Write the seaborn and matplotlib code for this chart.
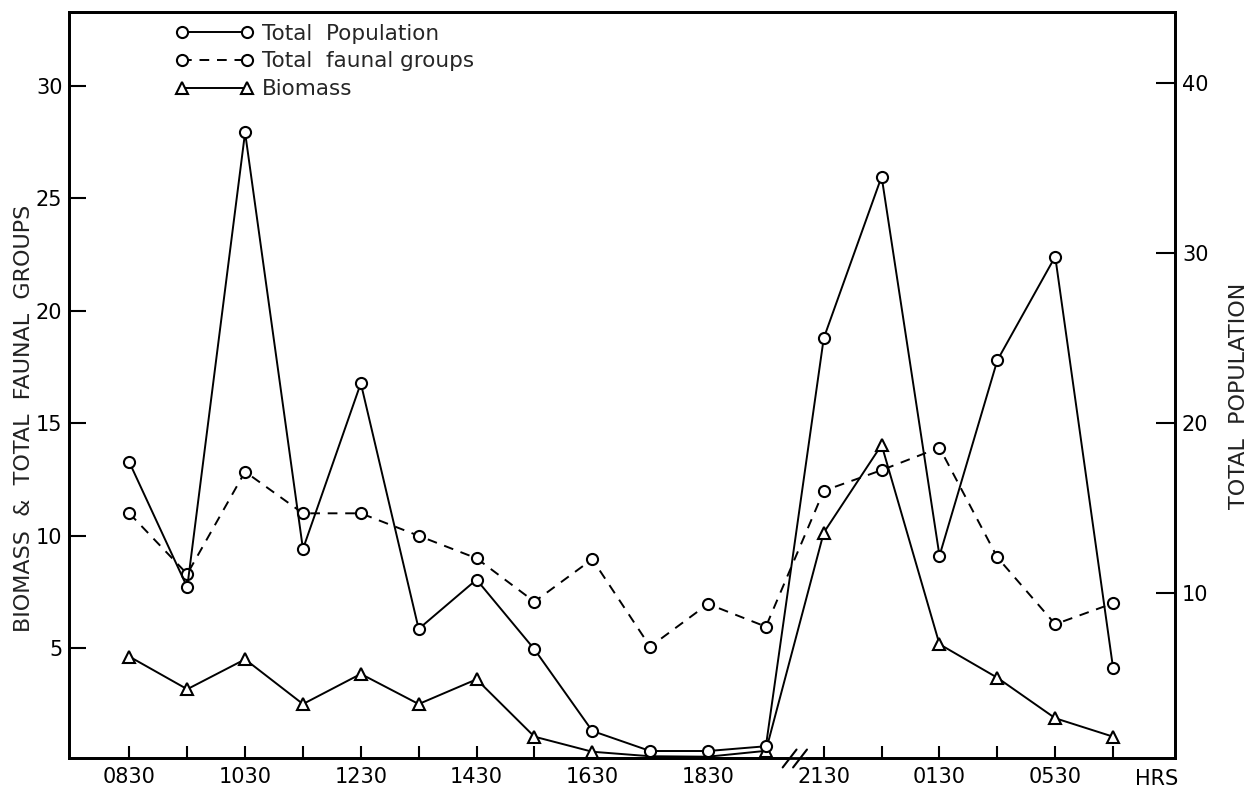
import numpy as np
import pandas as pd
import matplotlib
matplotlib.use("Agg")
import matplotlib.pyplot as plt
import matplotlib.transforms as mtransforms
import seaborn as sns

# ---- data ----
times = ["0830", "0930", "1030", "1130", "1230", "1330", "1430", "1530", "1630",
         "1730", "1830", "1930", "2130", "2330", "0130", "0330", "0530", "0730"]
shown_labels = ["0830", "", "1030", "", "1230", "", "1430", "", "1630",
                "", "1830", "", "2130", "", "0130", "", "0530", ""]
total_population = [17.7, 10.35, 37.1, 12.6, 22.35, 7.9, 10.8, 6.7, 1.9,
                    0.72, 0.72, 1.0, 25.0, 34.5, 12.2, 23.7, 29.8, 5.6]
faunal_groups = [11.0, 8.3, 12.85, 11.0, 11.0, 10.0, 9.0, 7.07, 8.96,
                 5.07, 6.97, 5.96, 12.0, 12.92, 13.92, 9.04, 6.07, 7.0]
biomass = [4.63, 3.18, 4.51, 2.52, 3.86, 2.52, 3.62, 1.07, 0.4,
           0.2, 0.18, 0.44, 10.14, 14.04, 5.18, 3.69, 1.89, 1.07]
left_ticks = [5, 10, 15, 20, 25, 30]
right_ticks = [10, 20, 30, 40]

sns.set_style("white")
plt.rcParams["font.family"] = ["DejaVu Sans"]

df = pd.DataFrame({"pos": np.arange(len(times)), "time": times,
                   "pop": total_population, "fauna": faunal_groups, "bio": biomass})

fig = plt.figure(figsize=(12.54, 7.91), dpi=100)
ax = fig.add_axes([0.0553, 0.0411, 0.937 - 0.0553, 0.9852 - 0.0411])
ax2 = ax.twinx()

lw = 1.4
common = dict(color="black", linewidth=lw, markersize=8, markerfacecolor="white",
              markeredgecolor="black", markeredgewidth=1.5)

sns.lineplot(data=df, x="pos", y="fauna", ax=ax, marker="o", dashes=(5, 4),
             legend=False, **common)
sns.lineplot(data=df, x="pos", y="bio", ax=ax, marker="^",
             legend=False, **common)
sns.lineplot(data=df, x="pos", y="pop", ax=ax2, marker="o",
             legend=False, **common)

# axes limits
ax.set_xlim(-1.037, 18.07)
ax.set_ylim(0.1, 33.3)
ax2.set_ylim(0.28, 44.2)

ax.set_xticks(df["pos"])
ax.set_xticklabels(shown_labels)
ax.set_yticks(left_ticks)
ax2.set_yticks(right_ticks)

fs = 15
ax.tick_params(axis="x", direction="in", length=9, width=1.5, labelsize=fs,
               colors="black", pad=6, bottom=True, top=False)
ax.tick_params(axis="y", direction="in", length=12, width=1.5, labelsize=fs,
               colors="black", pad=5, left=True, right=False)
ax2.tick_params(axis="y", direction="in", length=14, width=1.5, labelsize=fs,
                colors="black", pad=5, right=True)

for a in (ax, ax2):
    for s in a.spines.values():
        s.set_visible(True)
        s.set_color("black")
        s.set_linewidth(2)

ax.set_xlabel("")
ax.set_ylabel("BIOMASS  &  TOTAL  FAUNAL  GROUPS", fontsize=16, color="#222222")
ax.yaxis.set_label_coords(-0.032, 0.456)
ax2.set_ylabel("TOTAL  POPULATION", fontsize=16, color="#222222", rotation=90)
ax2.yaxis.set_label_coords(1.049, 0.485)

# HRS label
trans = mtransforms.blended_transform_factory(ax.transData, ax.transAxes)
ax.text(17.76, -0.027, "HRS", transform=trans, ha="center", va="center",
        fontsize=fs, color="black")

# axis break marks
ax.plot([11.40, 11.70], [0.0, 0.0], transform=trans, color="white", linewidth=4,
        clip_on=False, zorder=10, solid_capstyle="butt")
for x0 in (11.29, 11.47):
    ax.plot([x0, x0 + 0.24], [-0.012, 0.012], transform=trans, color="black",
            linewidth=1.5, clip_on=False, zorder=11)

# legend
handles = ax2.get_lines()[:1] + ax.get_lines()[:2]
labels = ["Total  Population", "Total  faunal groups", "Biomass"]
leg = ax2.legend(handles, labels, loc="upper left", bbox_to_anchor=(0.096, 0.984),
                 frameon=False, numpoints=2, handlelength=3.6, handletextpad=0.4,
                 labelspacing=0.36, borderpad=0, borderaxespad=0, fontsize=15.5)

fig.savefig("out.png", dpi=100)
